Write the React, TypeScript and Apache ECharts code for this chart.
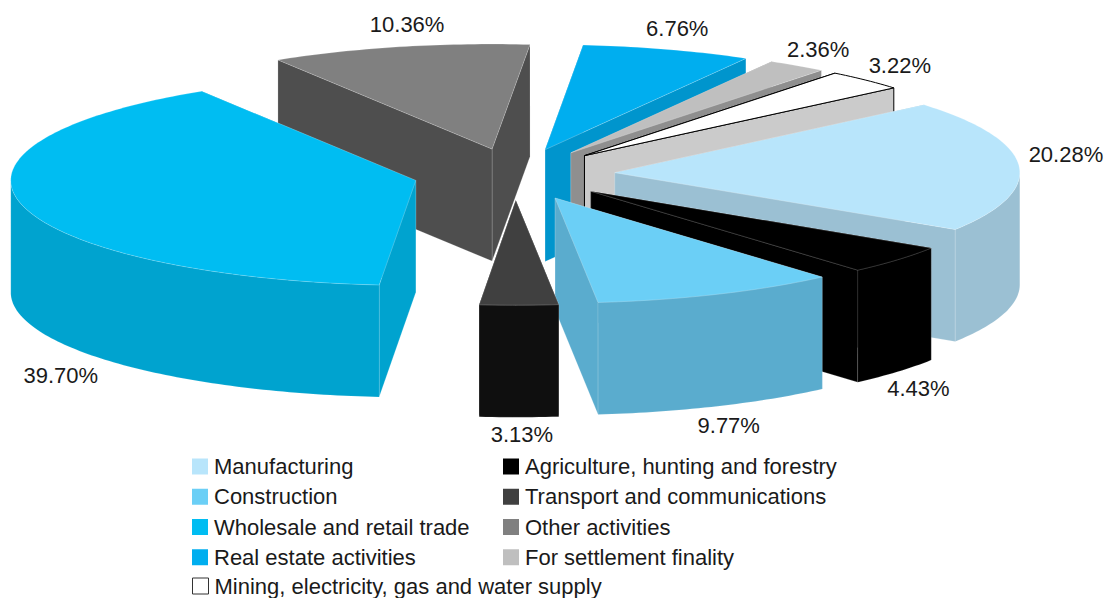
import React, { useEffect, useRef } from "react";
import * as echarts from "echarts";

// Clockwise from the first slice.
const categories = [
  "Manufacturing",
  "Agriculture, hunting and forestry",
  "Construction",
  "Transport and communications",
  "Wholesale and retail trade",
  "Other activities",
  "Real estate activities",
  "For settlement finality",
  "Mining, electricity, gas and water supply",
];
const shares = [20.28, 4.43, 9.77, 3.13, 39.7, 10.36, 6.76, 2.36, 3.22];
const topColors = ["#b8e5fb", "#000000", "#6bcff6", "#404040", "#00bdf2", "#808080", "#00aeef", "#bfbfbf", "#ffffff"];
const wallColors = ["#9bc0d3", "#000000", "#5aacce", "#0f0f0f", "#00a3cf", "#4e4e4e", "#0095cd", "#8f8f8f", "#cbcbcb"];
const legendLeft = [categories[0], categories[2], categories[4], categories[6]];
const legendRight = [categories[1], categories[3], categories[5], categories[7]];
const legendLast = [categories[8]];

// Layout
const CX = 515, CY = 174.3, RX = 405, RY = 105, DEPTH = 112, START = -40.2;
const FONT = "'Liberation Sans', Arial, sans-serif";
const explode = [100, 100, 100, 100, 102, 100, 100, 100, 100];
const paintOrder = [5, 6, 7, 8, 0, 1, 2, 3, 4];
const labelNudge = [[47, -11], [21, 16.5], [11, 19], [3, 17], [39, 59], [8, -22], [10, -21], [21, -16], [34, -15]];

const total = shares.reduce((a, b) => a + b, 0);
const rad = (d: number) => (d * Math.PI) / 180;

function sliceItem(i: number, value: number) {
  const before = shares.slice(0, i).reduce((a, b) => a + b, 0);
  const a0 = START + (before / total) * 360;
  const a1 = a0 + (value / total) * 360;
  const mid = (a0 + a1) / 2;
  const ax = CX + explode[i] * Math.cos(rad(mid));
  const ay = CY + (explode[i] * RY * Math.sin(rad(mid))) / RX;
  const at = (d: number): number[] => [ax + RX * Math.cos(rad(d)), ay + RY * Math.sin(rad(d))];
  const down = (p: number[]): number[] => [p[0], p[1] + DEPTH];

  const arc: number[][] = [];
  const steps = Math.max(2, Math.ceil(a1 - a0));
  for (let s = 0; s <= steps; s++) arc.push(at(a0 + ((a1 - a0) * s) / steps));

  const front = arc.filter((p) => p[1] >= ay);
  const apex = [ax, ay];
  const isMining = topColors[i] === "#ffffff";
  const line = isMining ? "#000000" : "rgba(255,255,255,0.35)";
  const lw = isMining ? 1 : 0.5;
  const wallStyle = { fill: wallColors[i], stroke: line, lineWidth: lw };

  const ends = [arc[0], arc[arc.length - 1]].sort((p, q) => p[1] - q[1]);
  const children: any[] = ends.map((p) => ({
    type: "polygon",
    shape: { points: [apex, p, down(p), down(apex)] },
    style: wallStyle,
  }));
  if (front.length > 1) {
    children.push({
      type: "polygon",
      shape: { points: [...front, ...front.map(down).reverse()] },
      style: { fill: wallColors[i], stroke: "rgba(255,255,255,0.2)", lineWidth: 0.5 },
    });
  }
  children.push({
    type: "polygon",
    shape: { points: [apex, ...arc] },
    style: { fill: topColors[i], stroke: line, lineWidth: lw },
  });

  const outer = at(mid);
  const base = Math.sin(rad(mid)) > 0 ? down(outer) : outer;
  children.push({
    type: "text",
    style: {
      x: base[0] + labelNudge[i][0],
      y: base[1] + labelNudge[i][1],
      text: value.toFixed(2) + "%",
      fill: "#1a1a1a",
      fontSize: 22,
      fontFamily: FONT,
      align: "center",
      verticalAlign: "middle",
    },
  });
  return { type: "group", children };
}

const legendData = (names: string[]) =>
  names.map((name) => {
    const i = categories.indexOf(name);
    return {
      name,
      icon: "rect",
      itemStyle:
        topColors[i] === "#ffffff"
          ? { color: "#ffffff", borderColor: "#333333", borderWidth: 1 }
          : { color: topColors[i], borderWidth: 0 },
    };
  });

const legendBase = {
  orient: "vertical",
  itemWidth: 16,
  itemHeight: 16,
  itemGap: 8.25,
  padding: 0,
  selectedMode: false,
  textStyle: { fontFamily: FONT, fontSize: 22, color: "#1a1a1a", padding: [0, 0, 0, 1], lineHeight: 20 },
};

export default function App() {
  const ref = useRef<HTMLDivElement>(null);
  useEffect(() => {
    document.body.style.margin = "0";
    const chart = echarts.init(ref.current!, null, { renderer: "svg" });
    chart.setOption({
      animation: false,
      backgroundColor: "#ffffff",
      legend: [
        { ...legendBase, left: 192, top: 455.5, data: legendData(legendLeft) },
        { ...legendBase, left: 503, top: 455.5, data: legendData(legendRight) },
        { ...legendBase, left: 192, top: 575, data: legendData(legendLast) },
      ],
      series: paintOrder.map((i) => ({
        type: "custom",
        name: categories[i],
        coordinateSystem: "none",
        silent: true,
        itemStyle: { color: topColors[i] },
        data: [[shares[i]]],
        renderItem: (_p: any, api: any) => sliceItem(i, api.value(0)),
      })),
    });
    return () => chart.dispose();
  }, []);
  return <div ref={ref} style={{ width: 1107, height: 598 }} />;
}
